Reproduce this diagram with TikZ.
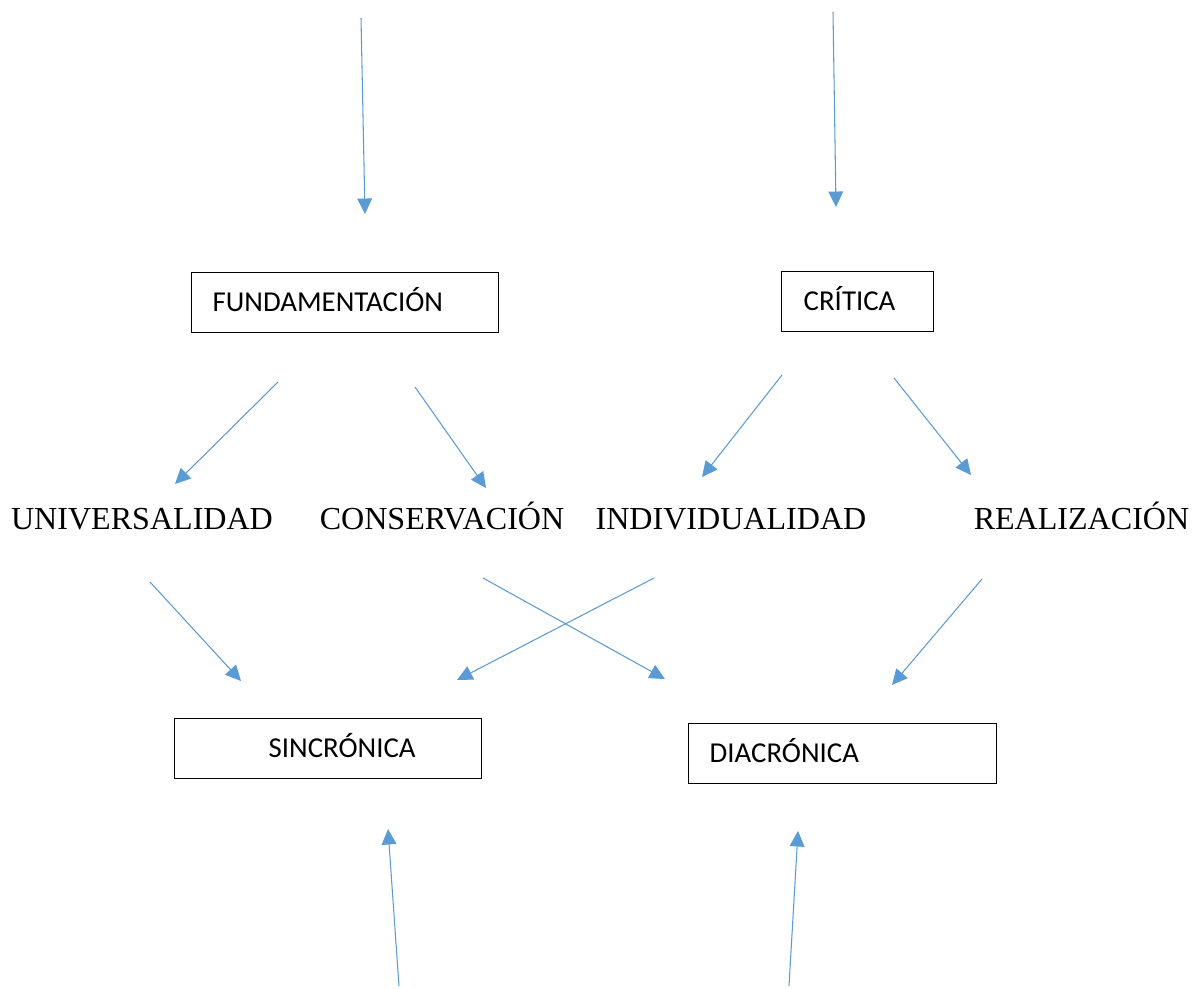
\documentclass[tikz,border=0pt]{standalone}
\usepackage{fontspec}
\setmainfont{Liberation Serif}
\newfontfamily\cajafont{Carlito}
\usetikzlibrary{arrows.meta}
\definecolor{myBlue}{HTML}{5b9bd5}

\begin{document}
\begin{tikzpicture}[x=0.025cm, y=-0.025cm, >={Triangle[length=11pt,width=10.5pt]}, line width=0.75pt, myBlue]

  \tikzstyle{B}=[draw=black, line width=1pt, text=black, font=\cajafont\fontsize{20.5}{24}\selectfont, minimum height=1.5cm, inner xsep=0pt, inner ysep=0pt, text height=0.425cm, text depth=0pt, align=left, anchor=north west]
  \tikzstyle{W}=[text=black, font=\fontsize{22.8}{26}\selectfont, inner sep=0pt, anchor=base]

  \useasboundingbox (0,0) rectangle (1196,988);

  % cajas
  \node[B, text width=7.675cm] at (191,272) (fund) {\hspace*{0.525cm}FUNDAMENTACIÓN};
  \node[B, text width=3.8cm] at (781,271) (critica) {\hspace*{0.55cm}CRÍTICA};
  \node[B, text width=7.675cm] at (174,718) (sincro) {\hspace*{2.35cm}SINCRÓNICA};
  \node[B, text width=7.7cm] at (688,723) (diacro) {\hspace*{0.525cm}DIACRÓNICA};

  % palabras
  \node[W] at (142,529.5) (univ) {UNIVERSALIDAD};
  \node[W] at (442,529.5) (conserv) {CONSERVACIÓN};
  \node[W] at (731,529.5) (indiv) {INDIVIDUALIDAD};
  \node[W] at (1081.5,529.5) (realiz) {REALIZACIÓN};

  % extremos de las flechas
  \coordinate (a1) at (361,18);   \coordinate (a2) at (365,214);
  \coordinate (b1) at (833,12);   \coordinate (b2) at (836,207);
  \coordinate (c1) at (278,382);  \coordinate (c2) at (175,484);
  \coordinate (d1) at (415,387);  \coordinate (d2) at (486,488);
  \coordinate (e1) at (782,375);  \coordinate (e2) at (702,477);
  \coordinate (g1) at (894,378);  \coordinate (g2) at (971,475);
  \coordinate (h1) at (150,582);  \coordinate (h2) at (241,681);
  \coordinate (i1) at (654,578);  \coordinate (i2) at (457,680);
  \coordinate (j1) at (483,578);  \coordinate (j2) at (665,679);
  \coordinate (k1) at (982,579);  \coordinate (k2) at (892,685);
  \coordinate (l1) at (399,986);  \coordinate (l2) at (388,829);
  \coordinate (m1) at (789,986);  \coordinate (m2) at (798,831);

  \draw [->] (a1) to (a2);
  \draw [->] (b1) to (b2);

  \draw [->] (c1) to (c2);
  \draw [->] (d1) to (d2);
  \draw [->] (e1) to (e2);
  \draw [->] (g1) to (g2);

  \draw [->] (h1) to (h2);
  \draw [->] (i1) to (i2);
  \draw [->] (j1) to (j2);
  \draw [->] (k1) to (k2);

  \draw [->] (l1) to (l2);
  \draw [->] (m1) to (m2);

\end{tikzpicture}
\end{document}
